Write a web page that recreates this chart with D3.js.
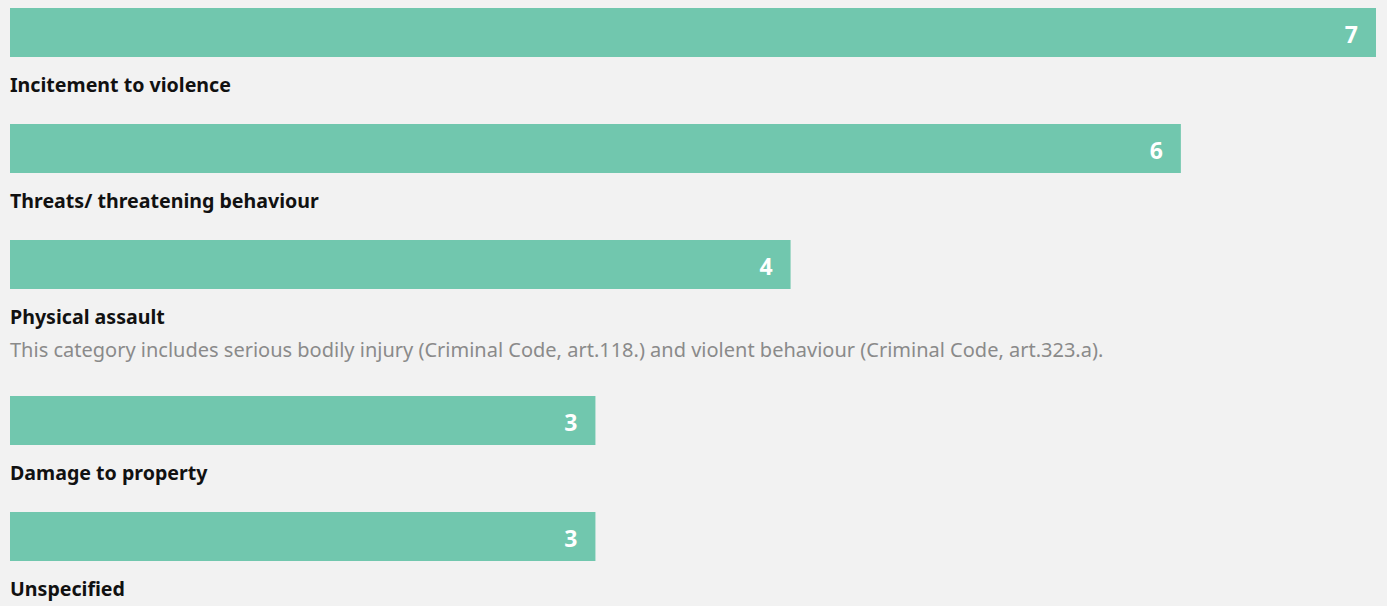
<html>
<head>
<meta charset="utf-8">
<title>Incidents by category</title>
<style>
  body { margin: 0; background: #f2f2f2; }
  svg { display: block; font-family: "Noto Sans", "Open Sans", sans-serif; }
</style>
<script src="https://d3js.org/d3.v7.min.js"></script>
</head>
<body>
<svg width="1387" height="606"></svg>
<script>
var categories = ["Incitement to violence", "Threats/ threatening behaviour", "Physical assault", "Damage to property", "Unspecified"];
var counts = [7, 6, 4, 3, 3];
var notes = ["", "", "This category includes serious bodily injury (Criminal Code, art.118.) and violent behaviour (Criminal Code, art.323.a).", "", ""];

var svg = d3.select("svg"),
    margin = {top: 8, left: 10, right: 11},
    width = +svg.attr("width") - margin.left - margin.right,
    barH = 49, rowGap = 116, noteGap = 40;

var x = d3.scaleLinear().domain([0, d3.max(counts)]).range([0, width]);

// stack rows; rows with a note get extra space
var rows = [], y = margin.top;
categories.forEach(function(c, i) {
  rows.push({name: c, value: counts[i], note: notes[i], y: y});
  y += rowGap + (notes[i] ? noteGap : 0);
});

var g = svg.append("g").attr("transform", `translate(${margin.left},0)`);
var row = g.selectAll(".row").data(rows).enter().append("g")
  .attr("class", "row")
  .attr("transform", d => `translate(0,${d.y})`);

row.append("rect")
  .attr("width", d => x(d.value))
  .attr("height", barH)
  .attr("fill", "#71c7ae");

row.append("text")
  .attr("x", d => x(d.value) - 18)
  .attr("y", 35)
  .attr("text-anchor", "end")
  .attr("fill", "#fff")
  .style("font-size", "23px")
  .style("font-weight", "bold")
  .text(d => d.value);

row.append("text")
  .attr("x", 0)
  .attr("y", 84)
  .attr("fill", "#111")
  .style("font-size", "19.6px")
  .style("font-weight", "bold")
  .text(d => d.name);

row.filter(d => d.note).append("text")
  .attr("x", 0)
  .attr("y", 117)
  .attr("fill", "#8a8a8a")
  .style("font-size", "20px")
  .text(d => d.note);
</script>
</body>
</html>
